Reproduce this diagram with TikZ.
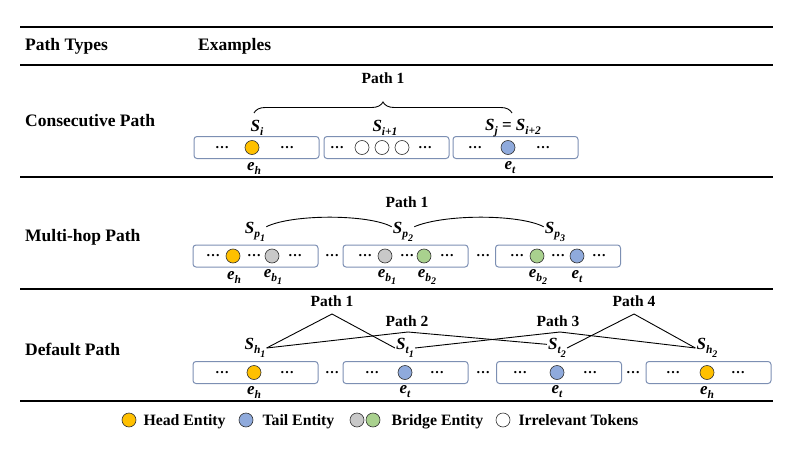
\documentclass[tikz,border=0pt]{standalone}
\usepackage{fontspec}
\setmainfont{Liberation Serif}
\usetikzlibrary{decorations.pathreplacing,positioning}

\definecolor{headc}{HTML}{FFC000}
\definecolor{tailc}{HTML}{8FAADC}
\definecolor{bridgea}{HTML}{C8C8C8}
\definecolor{bridgeb}{HTML}{A9D18E}
\definecolor{boxc}{HTML}{7C8FB3}

\newcommand{\bi}[1]{{\bfseries\itshape #1}}
\newcommand{\lsub}[2]{\bi{#1}\raisebox{-4pt}{\fontsize{11.5}{11.5}\selectfont\bi{#2}}}
\newcommand{\llsub}[3]{\bi{#1}\raisebox{-4pt}{\fontsize{11.5}{11.5}\selectfont\bi{#2}\raisebox{-3.5pt}{\fontsize{10}{10}\selectfont\bi{#3}}}}

\tikzset{
  tokbox/.style={draw=boxc, line width=1pt, rounded corners=3pt,
    minimum width=125pt, minimum height=22pt, inner sep=0pt},
  tok/.style={circle, draw=black!80, line width=0.6pt, minimum size=14pt, inner sep=0pt},
  headtok/.style={tok, fill=headc},
  tailtok/.style={tok, fill=tailc},
  graytok/.style={tok, fill=bridgea},
  greentok/.style={tok, fill=bridgeb},
  whitetok/.style={tok, fill=white},
  dots/.style={font=\fontsize{14}{14}\selectfont\bfseries, inner sep=0pt},
  lbl/.style={font=\fontsize{17}{20}\selectfont, inner sep=1pt},
  pathlbl/.style={font=\fontsize{15.5}{18}\selectfont\bfseries, inner sep=1pt,
    text height=11pt, text depth=0.5pt},
  rowlbl/.style={font=\fontsize{17.5}{20}\selectfont\bfseries, anchor=west, inner sep=0pt,
    text height=12pt, text depth=0.5pt},
  lgtext/.style={font=\fontsize{15.8}{18}\selectfont\bfseries, inner sep=1pt,
    text height=11pt, text depth=0.5pt},
  link/.style={line width=0.9pt},
}

\begin{document}
\begin{tikzpicture}[x=1pt,y=-1pt]
	\useasboundingbox (0,0) rectangle (803,452);

	% table rules
	\foreach \y in {27,65,177,289,401} {
	    \draw[line width=2pt] (20,\y) -- (773,\y);
	}
	\node[rowlbl] (hdtype) at (25,45) {Path Types};
	\node[rowlbl] (hdex) at (198,45) {Examples};

	% Consecutive Path
	\node[rowlbl] (rowcons) at (25,121) {Consecutive Path};
	\node[tokbox] (c1) at (256.5,147.5) {};
	\node[tokbox] (c2) at (386.5,147.5) {};
	\node[tokbox] (c3) at (515.5,147.5) {};
	\foreach \x in {222,287,337,425,475,543} {
	    \node[dots] (cd\x) at (\x,147.5) {…};
	}
	\node[headtok] (ch) at (252,147.5) {};
	\foreach \x in {362,382,402} {
	    \node[whitetok] (cw\x) at (\x,147.5) {};
	}
	\node[tailtok] (ct) at (508,147.5) {};
	\node[lbl] (si) at (257,128) {\lsub{S}{i}};
	\node[lbl] (sii) at (385,128) {\lsub{S}{i+1}};
	\node[lbl] (sj) at (513,128) {\lsub{S}{j} \bfseries= \lsub{S}{i+2}};
	\node[lbl] (ceh) at (254,168) {\lsub{e}{h}};
	\node[lbl] (cet) at (510,168) {\lsub{e}{t}};
	\coordinate (bl) at (254,113);
	\coordinate (br) at (512,113);
	\draw[link, decorate, decoration={brace, amplitude=11pt}] (bl) -- (br);
	\node[pathlbl] (cp1) at (383,78) {Path 1};

	% Multi-hop Path
	\node[rowlbl] (rowmulti) at (25,236) {Multi-hop Path};
	\node[tokbox] (m1) at (255.5,256) {};
	\node[tokbox] (m2) at (405.5,256) {};
	\node[tokbox] (m3) at (558,256) {};
	\foreach \x in {213,254,295,332,365,407,447,483,517,558,599} {
	    \node[dots] (md\x) at (\x,256) {…};
	}
	\node[headtok] (mh) at (233,256) {};
	\node[graytok] (mb1) at (272,256) {};
	\node[graytok] (mb2) at (385,256) {};
	\node[greentok] (mb3) at (424,256) {};
	\node[greentok] (mb4) at (537,256) {};
	\node[tailtok] (mt) at (577,256) {};
	\node[lbl] (meh) at (234,277) {\lsub{e}{h}};
	\node[lbl] (meb1) at (273,277) {\llsub{e}{b}{1}};
	\node[lbl] (meb2) at (387,277) {\llsub{e}{b}{1}};
	\node[lbl] (meb3) at (427,277) {\llsub{e}{b}{2}};
	\node[lbl] (meb4) at (538,277) {\llsub{e}{b}{2}};
	\node[lbl] (met) at (577,277) {\lsub{e}{t}};
	\node[lbl] (sp1) at (255,232) {\llsub{S}{p}{1}};
	\node[lbl] (sp2) at (403,232) {\llsub{S}{p}{2}};
	\node[lbl] (sp3) at (555,232) {\llsub{S}{p}{3}};
	\draw[link] (sp1.25) .. controls (292,214) and (368,214) .. (sp2.155);
	\draw[link] (sp2.25) .. controls (444,214) and (519,214) .. (sp3.155);
	\node[pathlbl] (mp1) at (407,202) {Path 1};

	% Default Path
	\node[rowlbl] (rowdef) at (25,350) {Default Path};
	\node[tokbox] (d1) at (255.5,372.5) {};
	\node[tokbox] (d2) at (405.5,372.5) {};
	\node[tokbox] (d3) at (559,372.5) {};
	\node[tokbox] (d4) at (708.5,372.5) {};
	\foreach \x in {222,287,332,372,437,483,520,590,633,673,738} {
	    \node[dots] (dd\x) at (\x,372.5) {…};
	}
	\node[headtok] (dh1) at (254,372.5) {};
	\node[tailtok] (dt1) at (405,372.5) {};
	\node[tailtok] (dt2) at (557,372.5) {};
	\node[headtok] (dh2) at (707,372.5) {};
	\node[lbl] (deh1) at (254,392) {\lsub{e}{h}};
	\node[lbl] (det1) at (405,392) {\lsub{e}{t}};
	\node[lbl] (det2) at (557,392) {\lsub{e}{t}};
	\node[lbl] (deh2) at (707,392) {\lsub{e}{h}};
	\node[lbl] (sh1) at (255,348) {\llsub{S}{h}{1}};
	\node[lbl] (st1) at (405,348) {\llsub{S}{t}{1}};
	\node[lbl] (st2) at (557,348) {\llsub{S}{t}{2}};
	\node[lbl] (sh2) at (707,348) {\llsub{S}{h}{2}};
	\coordinate (ap1) at (332,314);
	\coordinate (ap2) at (408,332);
	\coordinate (ap3) at (560,332);
	\coordinate (ap4) at (634,314);
	\draw[link] (sh1.east) -- (ap1) -- (st1.west);
	\draw[link] (sh1.east) -- (ap2) -- (st2.160);
	\draw[link] (st1.east) -- (ap3) -- (sh2.west);
	\draw[link] (st2.east) -- (ap4) -- (sh2.west);
	\node[pathlbl] (dp1) at (332,301) {Path 1};
	\node[pathlbl] (dp2) at (407,321) {Path 2};
	\node[pathlbl] (dp3) at (558,321) {Path 3};
	\node[pathlbl] (dp4) at (634,301) {Path 4};

	% legend
	\node[headtok] (lgh) at (129,420) {};
	\node[lgtext, right=6pt of lgh] (lght) {Head Entity};
	\node[tailtok] (lgt) at (246,420) {};
	\node[lgtext, right=8pt of lgt] (lgtt) {Tail Entity};
	\node[graytok] (lgb1) at (357,420) {};
	\node[greentok] (lgb2) at (373,420) {};
	\node[lgtext, right=10pt of lgb2] (lgbt) {Bridge Entity};
	\node[whitetok] (lgw) at (503,420) {};
	\node[lgtext, right=7pt of lgw] (lgwt) {Irrelevant Tokens};
\end{tikzpicture}
\end{document}
